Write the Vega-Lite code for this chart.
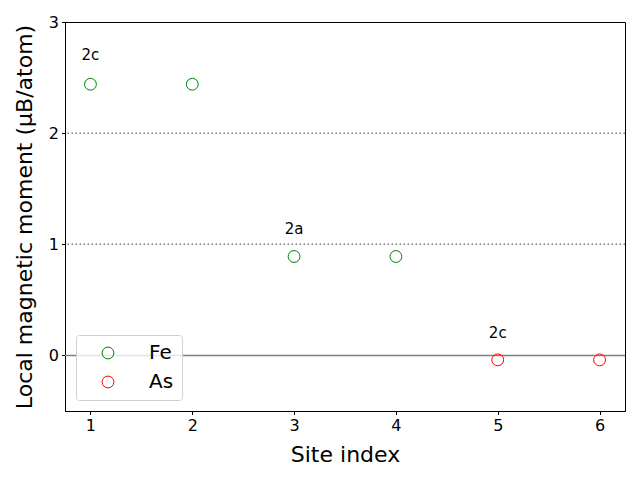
{
  "$schema": "https://vega.github.io/schema/vega-lite/v6.json",
  "width": 560,
  "height": 389,
  "autosize": {"type": "none"},
  "padding": {"left": 65, "top": 22, "right": 15, "bottom": 69},
  "background": "white",
  "config": {
    "view": {"stroke": "black", "strokeWidth": 1},
    "font": "DejaVu Sans",
    "axis": {
      "grid": false,
      "domainColor": "black",
      "tickColor": "black",
      "tickSize": 3.5,
      "labelColor": "black",
      "labelFontSize": 16,
      "labelPadding": 3,
      "titleFontSize": 22,
      "titleFontWeight": "normal",
      "titleColor": "black"
    }
  },
  "datasets": {
    "sites": [
      {"site": 1, "moment": 2.44, "element": "Fe"},
      {"site": 2, "moment": 2.44, "element": "Fe"},
      {"site": 3, "moment": 0.89, "element": "Fe"},
      {"site": 4, "moment": 0.89, "element": "Fe"},
      {"site": 5, "moment": -0.04, "element": "As"},
      {"site": 6, "moment": -0.04, "element": "As"}
    ],
    "labels": [
      {"site": 1, "moment": 2.7, "label": "2c"},
      {"site": 3, "moment": 1.14, "label": "2a"},
      {"site": 5, "moment": 0.2, "label": "2c"}
    ],
    "dotted": [{"y": 1}, {"y": 2}],
    "zero": [{"y": 0}]
  },
  "layer": [
    {
      "data": {"name": "dotted"},
      "mark": {"type": "rule", "color": "#808080", "strokeWidth": 1.5, "strokeDash": [1.5, 2.5]},
      "encoding": {"y": {"field": "y", "type": "quantitative", "scale": {"domain": [-0.5, 3]}}}
    },
    {
      "data": {"name": "zero"},
      "mark": {"type": "rule", "color": "#808080", "strokeWidth": 1.5},
      "encoding": {"y": {"field": "y", "type": "quantitative"}}
    },
    {
      "data": {"name": "sites"},
      "mark": {"type": "point", "filled": false, "size": 140, "strokeWidth": 1, "opacity": 1, "shape": "circle"},
      "encoding": {
        "x": {
          "field": "site", "type": "quantitative",
          "scale": {"domain": [0.75, 6.25], "nice": false, "zero": false},
          "axis": {"values": [1, 2, 3, 4, 5, 6], "title": "Site index", "format": "d", "titlePadding": 11}
        },
        "y": {
          "field": "moment", "type": "quantitative",
          "scale": {"domain": [-0.5, 3], "nice": false, "zero": false},
          "axis": {"values": [0, 1, 2, 3], "title": "Local magnetic moment (μB/atom)", "format": "d", "titlePadding": 12}
        },
        "color": {
          "field": "element", "type": "nominal",
          "scale": {"domain": ["Fe", "As"], "range": ["green", "red"]},
          "legend": {
            "title": null,
            "orient": "bottom-left",
            "offset": 11,
            "padding": 8,
            "labelFontSize": 20,
            "labelColor": "black",
            "labelOffset": 31,
            "symbolOffset": 14,
            "symbolStrokeWidth": 1,
            "symbolSize": 140,
            "rowPadding": 9,
            "strokeColor": "#d0d0d0",
            "fillColor": "rgba(255,255,255,0.8)",
            "cornerRadius": 3
          }
        }
      }
    },
    {
      "data": {"name": "labels"},
      "mark": {"type": "text", "fontSize": 15, "color": "black", "baseline": "middle", "align": "center"},
      "encoding": {
        "x": {"field": "site", "type": "quantitative"},
        "y": {"field": "moment", "type": "quantitative"},
        "text": {"field": "label"}
      }
    }
  ]
}
